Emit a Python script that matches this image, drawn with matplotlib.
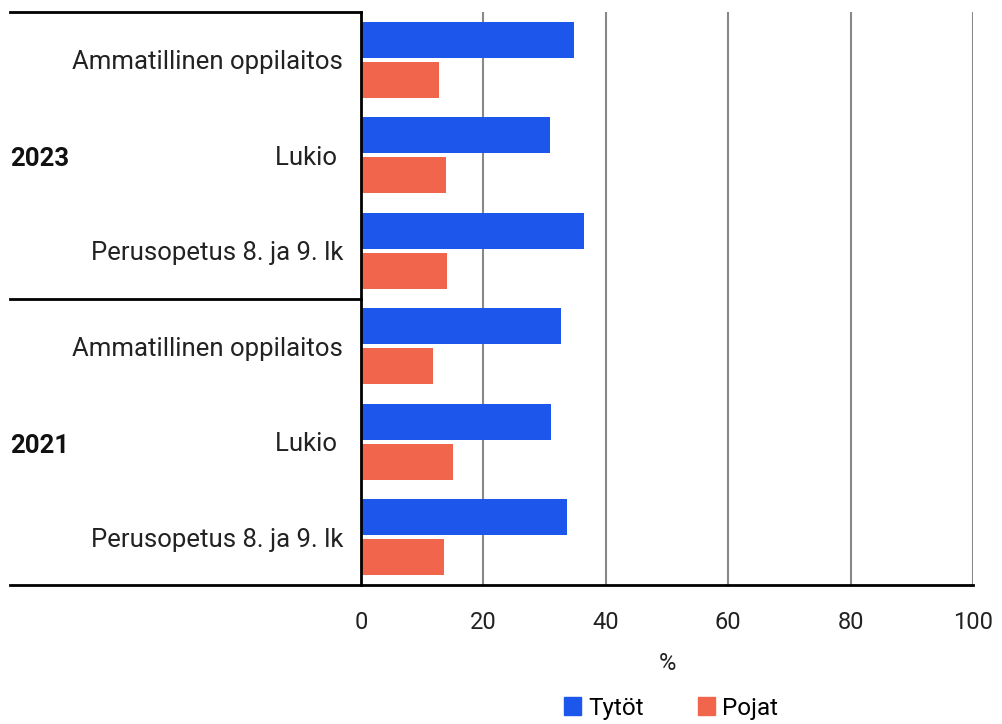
import matplotlib.pyplot as plt
from matplotlib.patches import Patch
from matplotlib.transforms import blended_transform_factory
import numpy as np

plt.rcParams['font.family'] = ['Roboto', 'DejaVu Sans']

# data, bottom to top
years = ['2021', '2023']
schools = ['Perusopetus 8. ja 9. lk', 'Lukio ', 'Ammatillinen oppilaitos']
tytot = [33.6, 31.1, 32.6, 36.5, 30.9, 34.8]
pojat = [13.6, 15.0, 11.8, 14.1, 13.9, 12.7]
xticks = [0, 20, 40, 60, 80, 100]

blue = '#1c56eb'
red = '#f2654d'
W, H = 1003, 724

fig = plt.figure(figsize=(W / 100, H / 100), dpi=100)
ax = fig.add_axes([361 / W, (H - 585) / H, 612 / W, 573 / H])

y = np.arange(6)
bh = 0.38
ax.barh(y + bh / 2 + 0.02, tytot, height=bh, color=blue, zorder=3, label='Tytöt')
ax.barh(y - bh / 2 - 0.02, pojat, height=bh, color=red, zorder=3, label='Pojat')

ax.set_xlim(0, 100)
ax.set_ylim(-0.5, 5.5)
ax.set_xticks(xticks)
ax.set_xticklabels([str(v) for v in xticks], fontsize=17, color='#222222')
ax.tick_params(axis='x', length=0, pad=19)
ax.set_yticks(y)
ax.set_yticklabels(schools * 2, fontsize=18.5, color='#222222')
ax.tick_params(axis='y', length=0, pad=13)
ax.set_xlabel('%', fontsize=17, color='#222222', labelpad=13)

ax.grid(axis='x', color='#888888', linewidth=1.5, zorder=0)
for s in ['top', 'right']:
    ax.spines[s].set_visible(False)
for s in ['left', 'bottom']:
    ax.spines[s].set_linewidth(2)
    ax.spines[s].set_color('black')
ax.spines['left'].set_zorder(4)

# group lines and year labels on the left
tr = blended_transform_factory(ax.transAxes, ax.transData)
x0 = (10 - 361) / 612
for yy in [-0.5, 2.5, 5.5]:
    ax.plot([x0, 0], [yy, yy], color='black', lw=2, transform=tr, clip_on=False)
for i, yr in enumerate(years):
    ax.text(x0, 3 * i + 0.96, yr, transform=tr, fontsize=18.5, fontweight='bold',
            ha='left', va='center', color='#111111')

fig.legend(handles=[Patch(color=blue, label='Tytöt'), Patch(color=red, label='Pojat')],
           loc='center', bbox_to_anchor=(671 / W, 1 - 708 / H), ncol=2,
           frameon=False, fontsize=17.5, handlelength=0.7, handleheight=0.7,
           handletextpad=0.3, columnspacing=2.2)

plt.savefig('out.png', dpi=100)
